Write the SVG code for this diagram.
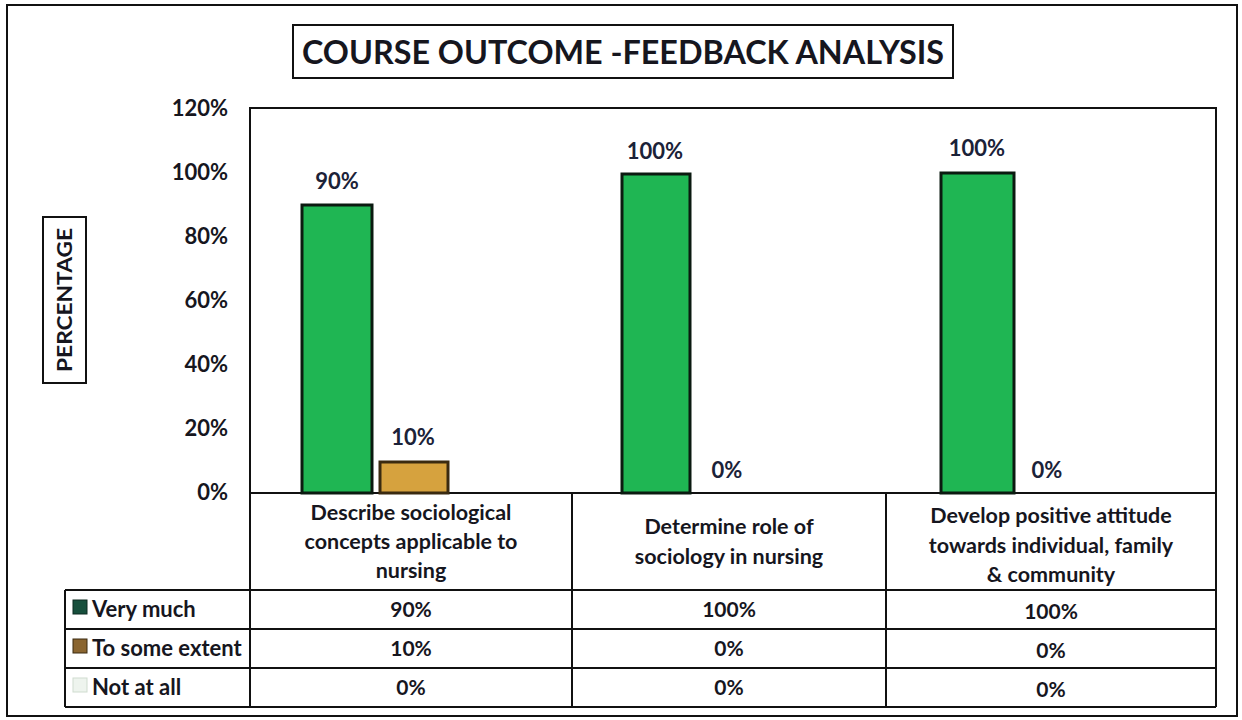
<svg xmlns="http://www.w3.org/2000/svg" width="1242" height="720" viewBox="0 0 1242 720">
<style>
  text { font-family: Lato, "Open Sans", "Liberation Sans", sans-serif; font-weight: bold; fill: #16161e; }
  .ax { font-size: 22px; text-anchor: end; }
  .lbl { font-size: 22px; text-anchor: middle; fill: #1b2238; }
  .hd { font-size: 21.5px; text-anchor: middle; }
  .cell { font-size: 21px; text-anchor: middle; }
  .leg { font-size: 22px; }
  .line { stroke: #111; stroke-width: 2; fill: none; }
  .green { fill: #1fb653; stroke: #0b1a10; stroke-width: 3; }
  .orange { fill: #d6a23e; stroke: #3a2a10; stroke-width: 3; }
</style>
<rect x="0" y="0" width="1242" height="720" fill="#ffffff"/>
<rect x="7" y="5" width="1230" height="711" class="line" stroke-width="2.5"/>

<g id="title">
  <rect x="293" y="25" width="660" height="53" class="line"/>
  <text x="623" y="64" font-size="32" text-anchor="middle" textLength="642" lengthAdjust="spacingAndGlyphs">COURSE OUTCOME -FEEDBACK ANALYSIS</text>
</g>

<g id="y-axis-title">
  <rect x="43" y="217" width="43" height="166" class="line"/>
  <text x="0" y="0" font-size="21" text-anchor="middle" textLength="144" lengthAdjust="spacingAndGlyphs" transform="translate(72,300) rotate(-90)">PERCENTAGE</text>
</g>

<g id="y-axis">
  <text class="ax" x="228" y="116">120%</text>
  <text class="ax" x="228" y="180">100%</text>
  <text class="ax" x="228" y="244">80%</text>
  <text class="ax" x="228" y="308">60%</text>
  <text class="ax" x="228" y="372">40%</text>
  <text class="ax" x="228" y="436">20%</text>
  <text class="ax" x="228" y="500">0%</text>
</g>

<g id="plot-area">
  <rect x="250" y="108" width="966" height="385" class="line"/>
</g>

<g id="bars">
  <rect class="green" x="302" y="205" width="70" height="288"/>
  <rect class="orange" x="380" y="462" width="68" height="31"/>
  <rect class="green" x="622" y="174" width="68" height="319"/>
  <rect class="green" x="941" y="173" width="73" height="320"/>
</g>

<g id="bar-labels">
  <text class="lbl" x="337" y="189">90%</text>
  <text class="lbl" x="413" y="445">10%</text>
  <text class="lbl" x="655" y="159">100%</text>
  <text class="lbl" x="727" y="478">0%</text>
  <text class="lbl" x="977" y="156">100%</text>
  <text class="lbl" x="1047" y="478">0%</text>
</g>

<g id="data-table">
  <line class="line" x1="250" y1="493" x2="250" y2="707"/>
  <line class="line" x1="572" y1="493" x2="572" y2="707"/>
  <line class="line" x1="886" y1="493" x2="886" y2="707"/>
  <line class="line" x1="1216" y1="493" x2="1216" y2="707"/>
  <line class="line" x1="65" y1="590" x2="1216" y2="590"/>
  <line class="line" x1="65" y1="629" x2="1216" y2="629"/>
  <line class="line" x1="65" y1="668" x2="1216" y2="668"/>
  <line class="line" x1="65" y1="707" x2="1216" y2="707"/>
  <line class="line" x1="65" y1="590" x2="65" y2="707"/>

  <text class="hd" x="411" y="520">Describe sociological</text>
  <text class="hd" x="411" y="549">concepts applicable to</text>
  <text class="hd" x="411" y="578">nursing</text>
  <text class="hd" x="729" y="534">Determine role of</text>
  <text class="hd" x="729" y="564">sociology in nursing</text>
  <text class="hd" x="1051" y="523">Develop positive attitude</text>
  <text class="hd" x="1051" y="553">towards individual, family</text>
  <text class="hd" x="1051" y="582">&amp; community</text>

  <text class="cell" x="411" y="617">90%</text>
  <text class="cell" x="729" y="617">100%</text>
  <text class="cell" x="1051" y="619">100%</text>
  <text class="cell" x="411" y="656">10%</text>
  <text class="cell" x="729" y="656">0%</text>
  <text class="cell" x="1051" y="658">0%</text>
  <text class="cell" x="411" y="695">0%</text>
  <text class="cell" x="729" y="695">0%</text>
  <text class="cell" x="1051" y="697">0%</text>
</g>

<g id="legend">
  <rect x="73" y="600" width="14" height="14" fill="#174f3c" stroke="#0c2a20" stroke-width="1"/>
  <text class="leg" x="92" y="617">Very much</text>
  <rect x="73" y="639" width="14" height="14" fill="#8a6530" stroke="#3a2a10" stroke-width="1"/>
  <text class="leg" x="92" y="656">To some extent</text>
  <rect x="73" y="678" width="14" height="14" fill="#eef4ee" stroke="#cfdccf" stroke-width="1"/>
  <text class="leg" x="92" y="695">Not at all</text>
</g>
</svg>
